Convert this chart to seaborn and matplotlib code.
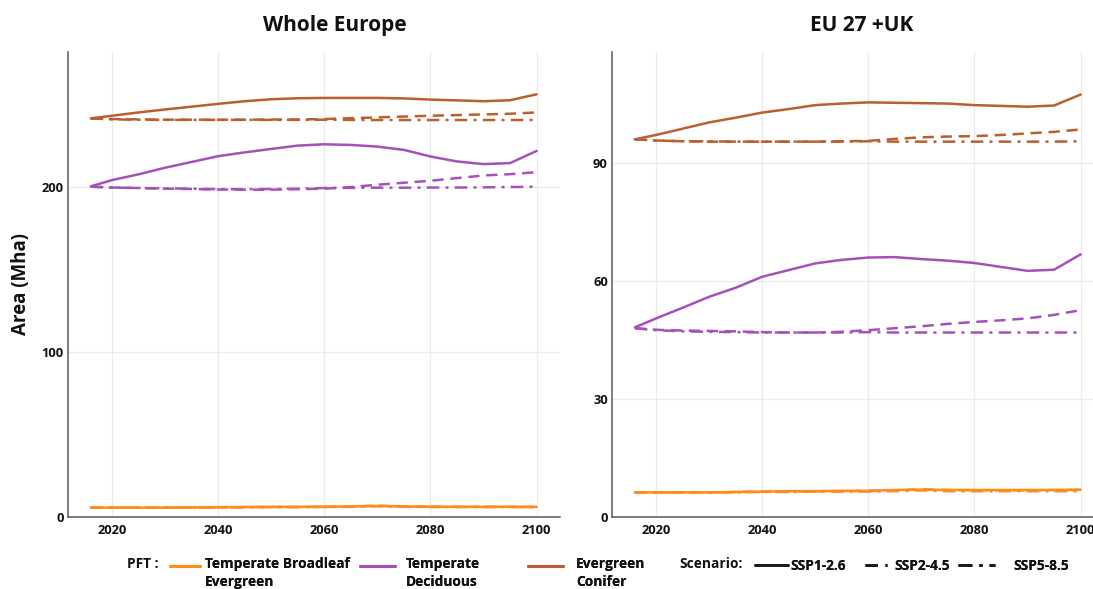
import numpy as np
import pandas as pd
import matplotlib
matplotlib.use("Agg")
import matplotlib.pyplot as plt
from matplotlib.lines import Line2D
from matplotlib.legend_handler import HandlerLine2D
import seaborn as sns

# ---- data: forest area (Mha) by plant functional type and scenario ----
years = [2016, 2020, 2025, 2030, 2035, 2040, 2045, 2050, 2055, 2060,
         2065, 2070, 2075, 2080, 2085, 2090, 2095, 2100]

pfts = ["Temperate Broadleaf\nEvergreen", "Temperate\nDeciduous", "Evergreen\nConifer"]
scenarios = ["SSP1-2.6", "SSP2-4.5", "SSP5-8.5"]
regions = ["Whole Europe", "EU 27 +UK"]

# Whole Europe
eu_all_tbe_ssp1 = [5.5, 5.5, 5.5, 5.5, 5.6, 5.8, 5.9, 6.0, 6.0, 6.1, 6.2, 6.5, 6.2, 6.1, 6.0, 6.0, 6.0, 6.0]
eu_all_tbe_ssp2 = [5.5, 5.5, 5.5, 5.5, 5.6, 5.7, 5.8, 5.9, 5.9, 6.0, 6.1, 6.8, 6.1, 6.0, 6.0, 6.0, 6.0, 5.9]
eu_all_tbe_ssp5 = [5.5, 5.5, 5.5, 5.5, 5.6, 5.6, 5.7, 5.8, 5.8, 5.9, 6.0, 6.4, 6.0, 5.9, 5.9, 5.9, 5.9, 5.8]
eu_all_td_ssp1 = [200.2, 204.0, 207.5, 211.5, 215.0, 218.5, 220.8, 222.9, 224.9, 225.7, 225.3, 224.3, 222.3, 218.3, 215.3, 213.7, 214.3, 221.7]
eu_all_td_ssp2 = [200.0, 199.5, 199.2, 198.8, 198.6, 198.3, 198.2, 198.2, 198.5, 198.8, 199.8, 201.2, 202.4, 203.6, 205.2, 206.8, 207.6, 208.8]
eu_all_td_ssp5 = [200.0, 199.5, 199.2, 199.0, 198.8, 198.5, 198.5, 198.6, 198.8, 199.2, 199.3, 199.4, 199.4, 199.5, 199.5, 199.6, 199.8, 200.0]
eu_all_ec_ssp1 = [241.4, 243.0, 245.0, 246.8, 248.5, 250.2, 251.8, 253.0, 253.6, 253.8, 253.8, 253.8, 253.5, 252.8, 252.3, 251.8, 252.4, 256.0]
eu_all_ec_ssp2 = [241.4, 241.0, 240.8, 240.6, 240.6, 240.6, 240.6, 240.7, 240.7, 241.0, 241.5, 242.0, 242.5, 243.0, 243.4, 243.8, 244.2, 245.0]
eu_all_ec_ssp5 = [241.4, 240.8, 240.6, 240.5, 240.5, 240.5, 240.5, 240.5, 240.5, 240.6, 240.5, 240.4, 240.4, 240.4, 240.4, 240.4, 240.4, 240.5]

# EU 27 + UK
eu27_tbe_ssp1 = [6.2, 6.2, 6.2, 6.2, 6.3, 6.4, 6.5, 6.5, 6.6, 6.6, 6.8, 6.9, 6.8, 6.8, 6.8, 6.8, 6.8, 6.9]
eu27_tbe_ssp2 = [6.2, 6.2, 6.2, 6.2, 6.3, 6.4, 6.4, 6.5, 6.5, 6.6, 6.7, 7.0, 6.8, 6.7, 6.7, 6.7, 6.8, 6.8]
eu27_tbe_ssp5 = [6.2, 6.2, 6.2, 6.2, 6.2, 6.3, 6.3, 6.4, 6.4, 6.4, 6.5, 6.7, 6.5, 6.5, 6.5, 6.5, 6.5, 6.5]
eu27_td_ssp1 = [48.2, 50.5, 53.2, 56.0, 58.3, 61.1, 62.8, 64.5, 65.4, 66.0, 66.1, 65.6, 65.2, 64.6, 63.6, 62.6, 62.9, 66.8]
eu27_td_ssp2 = [48.0, 47.6, 47.4, 47.3, 47.2, 47.0, 46.9, 46.9, 47.1, 47.5, 48.0, 48.5, 49.1, 49.6, 50.0, 50.5, 51.4, 52.6]
eu27_td_ssp5 = [48.0, 47.5, 47.2, 47.1, 47.0, 46.9, 46.9, 46.9, 46.9, 47.0, 46.9, 46.9, 46.9, 46.9, 46.9, 46.9, 46.9, 46.9]
eu27_ec_ssp1 = [96.1, 97.2, 98.8, 100.4, 101.6, 102.9, 103.8, 104.8, 105.2, 105.5, 105.4, 105.3, 105.2, 104.8, 104.6, 104.4, 104.7, 107.5]
eu27_ec_ssp2 = [96.1, 95.8, 95.6, 95.5, 95.5, 95.5, 95.5, 95.5, 95.6, 95.7, 96.2, 96.6, 96.8, 96.9, 97.2, 97.6, 98.0, 98.6]
eu27_ec_ssp5 = [96.1, 95.8, 95.6, 95.6, 95.5, 95.5, 95.5, 95.5, 95.5, 95.6, 95.5, 95.5, 95.5, 95.5, 95.5, 95.5, 95.5, 95.6]

series = {
    "Whole Europe": {
        pfts[0]: [eu_all_tbe_ssp1, eu_all_tbe_ssp2, eu_all_tbe_ssp5],
        pfts[1]: [eu_all_td_ssp1, eu_all_td_ssp2, eu_all_td_ssp5],
        pfts[2]: [eu_all_ec_ssp1, eu_all_ec_ssp2, eu_all_ec_ssp5],
    },
    "EU 27 +UK": {
        pfts[0]: [eu27_tbe_ssp1, eu27_tbe_ssp2, eu27_tbe_ssp5],
        pfts[1]: [eu27_td_ssp1, eu27_td_ssp2, eu27_td_ssp5],
        pfts[2]: [eu27_ec_ssp1, eu27_ec_ssp2, eu27_ec_ssp5],
    },
}

rows = []
for reg, by_pft in series.items():
    for pft, vals in by_pft.items():
        for scen, v in zip(scenarios, vals):
            for yr, a in zip(years, v):
                rows.append((reg, pft, scen, yr, a))
df = pd.DataFrame(rows, columns=["Region", "PFT", "Scenario", "Year", "Area"])

# ---- styling ----
sns.set_theme(style="white")
plt.rcParams["font.family"] = ["Open Sans", "DejaVu Sans"]

palette = {pfts[0]: "#FF8C1A", pfts[1]: "#A552B8", pfts[2]: "#B8602E"}
dashes = {"SSP1-2.6": "", "SSP2-4.5": (4.5, 2.7), "SSP5-8.5": (5, 2.5, 1.2, 2.5)}

W, H = 1093, 589
fig = plt.figure(figsize=(W / 100, H / 100), dpi=100)
ax_l = fig.add_axes([68 / W, 0.1227, 492 / W, 0.7895])
ax_r = fig.add_axes([612 / W, 0.1227, 492 / W, 0.7895])

panels = {
    "Whole Europe": dict(ax=ax_l, ylim=(0, 281.8), yticks=[0, 100, 200], title_x=0.543),
    "EU 27 +UK": dict(ax=ax_r, ylim=(0, 118.4), yticks=[0, 30, 60, 90], title_x=0.508),
}

for reg, cfg in panels.items():
    ax = cfg["ax"]
    sub = df[df["Region"] == reg]
    sns.lineplot(data=sub, x="Year", y="Area", hue="PFT", style="Scenario",
                 hue_order=pfts, style_order=scenarios, palette=palette,
                 dashes=dashes, linewidth=1.8, ax=ax, legend=False)
    ax.set_xlim(2011.7, 2104.4)
    ax.set_ylim(*cfg["ylim"])
    ax.set_xticks([2020, 2040, 2060, 2080, 2100])
    ax.set_yticks(cfg["yticks"])
    ax.grid(True, color="#EBEBEB", linewidth=1)
    ax.set_axisbelow(True)
    for s in ["top", "right"]:
        ax.spines[s].set_visible(False)
    for s in ["left", "bottom"]:
        ax.spines[s].set_color("#5A5A5A")
        ax.spines[s].set_linewidth(1.1)
    ax.tick_params(axis="x", length=0, pad=5, labelsize=9.3, colors="#111111")
    ax.tick_params(axis="y", length=0, pad=3, labelsize=9.3, colors="#111111")
    for lab in ax.get_xticklabels() + ax.get_yticklabels():
        lab.set_fontweight("bold")
    ax.set_xlabel("")
    ax.set_ylabel("")
    ax.set_title(reg, x=cfg["title_x"], fontsize=15, fontweight="bold", pad=15, color="#111111")

ax_l.set_ylabel("Area (Mha)", fontsize=13.5, fontweight="bold", labelpad=8, color="#111111")


# ---- legends ----
class RaisedLine(HandlerLine2D):
    """Legend line aligned with the first row of a two-row label."""
    def __init__(self, lift, **kw):
        super().__init__(**kw)
        self.lift = lift

    def create_artists(self, legend, orig_handle, xdescent, ydescent, width, height, fontsize, trans):
        arts = super().create_artists(legend, orig_handle, xdescent, ydescent,
                                      width, height, fontsize, trans)
        for a in arts:
            a.set_ydata(np.asarray(a.get_ydata(), dtype=float) + self.lift * fontsize)
        return arts


LEG_FS = 9.9
FS_PX = LEG_FS * 100 / 72


def entry(handle, label, x_px, y_px, length_px, pad_px, lift=0.0):
    leg = fig.legend([handle], [label], loc="center left",
                     bbox_to_anchor=(x_px / W, 1 - y_px / H),
                     frameon=False, borderpad=0, borderaxespad=0,
                     handlelength=length_px / FS_PX, handletextpad=pad_px / FS_PX,
                     handler_map={Line2D: RaisedLine(lift)},
                     prop={"weight": "bold", "size": LEG_FS})
    for t in leg.get_texts():
        t.set_linespacing(1.45)
        t.set_color("#111111")
    fig.add_artist(leg)


pft_pos = [(170, 30, 5), (360, 35, 11), (528, 35, 13)]
for p, (x, ln, pd_) in zip(pfts, pft_pos):
    entry(Line2D([], [], color=palette[p], linewidth=2.2), p, x, 573, ln, pd_, lift=0.55)

scen_pos = [(755, 33, 2), (865, 22, 7), (958, 37, 18)]
for s, (x, ln, pd_) in zip(scenarios, scen_pos):
    h = Line2D([], [], color="#1A1A1A", linewidth=2)
    if dashes[s]:
        h.set_dashes(dashes[s])
    entry(h, s, x, 566, ln, pd_)

fig.text(127 / W, 1 - 564 / H, "PFT :", fontsize=LEG_FS, fontweight="bold",
         ha="left", va="center", color="#111111")
fig.text(679 / W, 1 - 564 / H, "Scenario:", fontsize=LEG_FS, fontweight="bold",
         ha="left", va="center", color="#111111")

fig.savefig("out.png", dpi=100)
